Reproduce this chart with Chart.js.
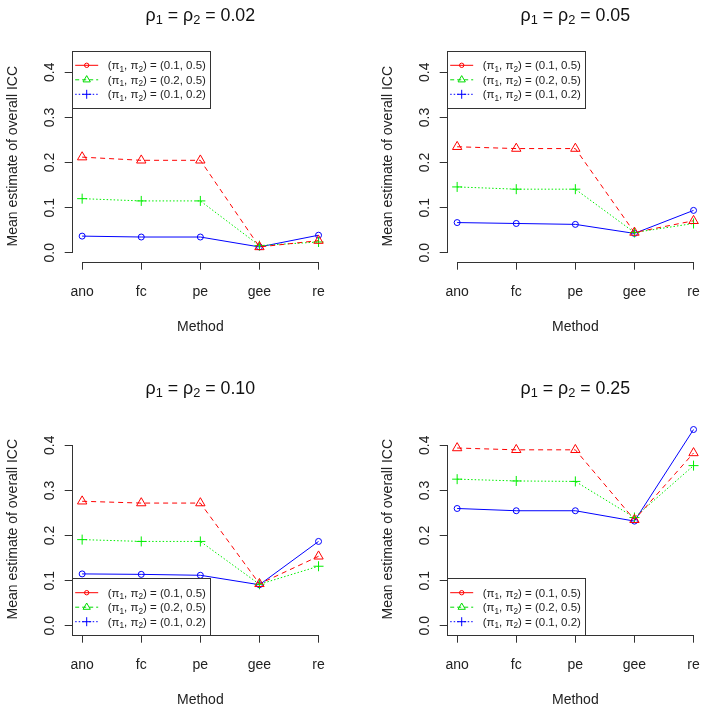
<!DOCTYPE html>
<html>
<head>
<meta charset="utf-8">
<script src="https://cdn.jsdelivr.net/npm/chart.js@4.4.0/dist/chart.umd.min.js"></script>
<style>
  html, body { margin: 0; padding: 0; background: #fff; overflow: hidden; }
  #wrap { position: relative; width: 714px; height: 712px; overflow: hidden; }
  .panel { position: absolute; }
</style>
</head>
<body>
<div id="wrap">
  <canvas class="panel" id="p1" width="339" height="345" style="left:0px;top:0px"></canvas>
  <canvas class="panel" id="p2" width="339" height="345" style="left:375px;top:0px"></canvas>
  <canvas class="panel" id="p3" width="339" height="345" style="left:0px;top:373px"></canvas>
  <canvas class="panel" id="p4" width="339" height="345" style="left:375px;top:373px"></canvas>
</div>
<script>
const methods = ['ano', 'fc', 'pe', 'gee', 're'];
const rhoLabels = ['0.02', '0.05', '0.10', '0.25'];
const yTicks = [0, 0.1, 0.2, 0.3, 0.4];
const legendPairs = ['(0.1, 0.5)', '(0.2, 0.5)', '(0.1, 0.2)'];

// red, (pi1, pi2) = (0.1, 0.5)
const red02 = [0.212, 0.205, 0.205, 0.013, 0.027];
const red05 = [0.235, 0.231, 0.231, 0.045, 0.071];
const red10 = [0.276, 0.272, 0.272, 0.093, 0.154];
const red25 = [0.394, 0.390, 0.390, 0.235, 0.383];
// green, (pi1, pi2) = (0.2, 0.5)
const green02 = [0.120, 0.115, 0.115, 0.016, 0.024];
const green05 = [0.146, 0.141, 0.141, 0.045, 0.065];
const green10 = [0.191, 0.187, 0.187, 0.092, 0.132];
const green25 = [0.325, 0.321, 0.320, 0.240, 0.355];
// blue, (pi1, pi2) = (0.1, 0.2)
const blue02 = [0.037, 0.035, 0.035, 0.013, 0.039];
const blue05 = [0.067, 0.065, 0.063, 0.043, 0.094];
const blue10 = [0.115, 0.114, 0.112, 0.091, 0.187];
const blue25 = [0.260, 0.255, 0.255, 0.232, 0.435];

const FONT = '"Liberation Sans", Arial, sans-serif';
const INK = '#222';

function toPoints(arr) {
    return arr.map((v, i) => ({ x: i + 1, y: v }));
}

// text with subscripts
function drawRich(ctx, parts, x, y, size, center) {
    const main = size + 'px ' + FONT;
    const sub = (size * 0.72) + 'px ' + FONT;
    let w = 0;
    parts.forEach(p => { ctx.font = p.sub ? sub : main; w += ctx.measureText(p.t).width; });
    let cx = center ? x - w / 2 : x;
    ctx.textAlign = 'left';
    ctx.textBaseline = 'alphabetic';
    parts.forEach(p => {
        ctx.font = p.sub ? sub : main;
        ctx.fillText(p.t, cx, p.sub ? y + size * 0.22 : y);
        cx += ctx.measureText(p.t).width;
    });
}

const rAxes = {
    id: 'rAxes',
    beforeDatasetsDraw(chart) {
        const { ctx, chartArea, scales } = chart;
        ctx.save();
        ctx.strokeStyle = '#333';
        ctx.lineWidth = 1;
        ctx.beginPath();
        const lx = Math.round(chartArea.left) - 0.5;
        ctx.moveTo(lx, scales.y.getPixelForValue(0));
        ctx.lineTo(lx, scales.y.getPixelForValue(0.4));
        const by = Math.round(chartArea.bottom) + 0.5;
        ctx.moveTo(scales.x.getPixelForValue(1), by);
        ctx.lineTo(scales.x.getPixelForValue(5), by);
        ctx.stroke();
        ctx.restore();
    }
};

const rTitle = {
    id: 'rTitle',
    afterDraw(chart, args, opts) {
        const { ctx, chartArea } = chart;
        ctx.save();
        ctx.fillStyle = '#111';
        drawRich(ctx, [
            { t: 'ρ' }, { t: '1', sub: true }, { t: ' = ρ' }, { t: '2', sub: true }, { t: ' = ' + opts.rho }
        ], (chartArea.left + chartArea.right) / 2, 20.5, 17.8, true);
        ctx.restore();
    }
};

const legendStyles = [
    { color: '#ff0000', dash: [], point: 'circle', r: 2.2 },
    { color: '#00dd00', dash: [4, 3], point: 'triangle', r: 4.2 },
    { color: '#0000ff', dash: [1.5, 2], point: 'cross', r: 4.5 }
];

const rLegend = {
    id: 'rLegend',
    afterDatasetsDraw(chart, args, opts) {
        const { ctx, chartArea } = chart;
        const w = 137.5, h = 56.6;
        const left = chartArea.left;
        const top = opts.pos === 'topleft' ? chartArea.top : chartArea.bottom - h;
        ctx.save();
        ctx.fillStyle = '#fff';
        ctx.fillRect(left, top, w, h);
        ctx.strokeStyle = '#333';
        ctx.lineWidth = 1;
        ctx.strokeRect(Math.round(left) - 0.5, Math.round(top) + 0.5, Math.round(w), Math.round(h));
        legendPairs.forEach((pair, i) => {
            const st = legendStyles[i];
            const cy = top + 14.6 + i * 14.5;
            ctx.strokeStyle = st.color;
            ctx.setLineDash(st.dash);
            ctx.beginPath();
            ctx.moveTo(left + 2.5, cy);
            ctx.lineTo(left + 25.5, cy);
            ctx.stroke();
            ctx.setLineDash([]);
            ctx.fillStyle = 'rgba(0,0,0,0)';
            Chart.helpers.drawPoint(ctx, { pointStyle: st.point, radius: st.r, rotation: 0, borderWidth: 1 }, left + 14, cy);
            ctx.fillStyle = INK;
            drawRich(ctx, [
                { t: '(π' }, { t: '1', sub: true }, { t: ', π' }, { t: '2', sub: true }, { t: ') = ' + pair }
            ], left + 35, cy + 4, 11.5, false);
        });
        ctx.restore();
    }
};

function makePanel(id, rho, red, green, blue, legendPos) {
    const ctx = document.getElementById(id).getContext('2d');
    return new Chart(ctx, {
        type: 'line',
        data: {
            datasets: [{
                label: 'red',
                data: toPoints(red),
                borderColor: '#ff0000',
                borderWidth: 1,
                borderDash: [5, 4],
                pointStyle: 'triangle',
                pointRadius: 5.4,
                pointBorderColor: '#ff0000',
                pointBackgroundColor: 'rgba(0,0,0,0)',
                pointBorderWidth: 1
            }, {
                label: 'green',
                data: toPoints(green),
                borderColor: '#00ee00',
                borderWidth: 1,
                borderDash: [1.5, 2],
                pointStyle: 'cross',
                pointRadius: 5,
                pointBorderColor: '#00ee00',
                pointBackgroundColor: 'rgba(0,0,0,0)',
                pointBorderWidth: 1
            }, {
                label: 'blue',
                data: toPoints(blue),
                borderColor: '#0000ff',
                borderWidth: 1,
                pointStyle: 'circle',
                pointRadius: 3,
                pointBorderColor: '#0000ff',
                pointBackgroundColor: 'rgba(0,0,0,0)',
                pointBorderWidth: 1
            }]
        },
        options: {
            responsive: false,
            animation: false,
            devicePixelRatio: 1,
            layout: { padding: { left: 0, top: 50.7, right: 2.5, bottom: 0 } },
            plugins: {
                legend: { display: false },
                tooltip: { enabled: false },
                rTitle: { rho: rho },
                rLegend: { pos: legendPos }
            },
            elements: { line: { tension: 0, fill: false } },
            scales: {
                x: {
                    type: 'linear',
                    min: 0.84,
                    max: 5.16,
                    afterBuildTicks: (scale) => { scale.ticks = methods.map((m, i) => ({ value: i + 1 })); },
                    afterFit: (scale) => { scale.height = 83.3; },
                    border: { display: false },
                    grid: { display: true, drawOnChartArea: false, drawTicks: true, tickLength: 8, color: '#333' },
                    ticks: {
                        color: INK,
                        font: { family: FONT, size: 14 },
                        padding: 14,
                        maxRotation: 0,
                        autoSkip: false,
                        callback: (v) => methods[v - 1]
                    },
                    title: {
                        display: true,
                        text: 'Method',
                        color: INK,
                        font: { family: FONT, size: 14 },
                        padding: { top: 0, bottom: 9 }
                    }
                },
                y: {
                    type: 'linear',
                    min: -0.0197,
                    max: 0.4479,
                    afterBuildTicks: (scale) => { scale.ticks = yTicks.map(v => ({ value: v })); },
                    afterFit: (scale) => { scale.width = 72.7; },
                    border: { display: false },
                    grid: { display: true, drawOnChartArea: false, drawTicks: true, tickLength: 8, color: '#333' },
                    ticks: {
                        color: INK,
                        font: { family: FONT, size: 14 },
                        padding: 4.6,
                        minRotation: 90,
                        maxRotation: 90,
                        crossAlign: 'center',
                        autoSkip: false,
                        callback: (v) => v.toFixed(1)
                    },
                    title: {
                        display: true,
                        text: 'Mean estimate of overall ICC',
                        color: INK,
                        font: { family: FONT, size: 14 },
                        padding: { top: 5, bottom: 0 }
                    }
                }
            }
        },
        plugins: [rAxes, rTitle, rLegend]
    });
}

makePanel('p1', rhoLabels[0], red02, green02, blue02, 'topleft');
makePanel('p2', rhoLabels[1], red05, green05, blue05, 'topleft');
makePanel('p3', rhoLabels[2], red10, green10, blue10, 'bottomleft');
makePanel('p4', rhoLabels[3], red25, green25, blue25, 'bottomleft');
</script>
</body>
</html>
